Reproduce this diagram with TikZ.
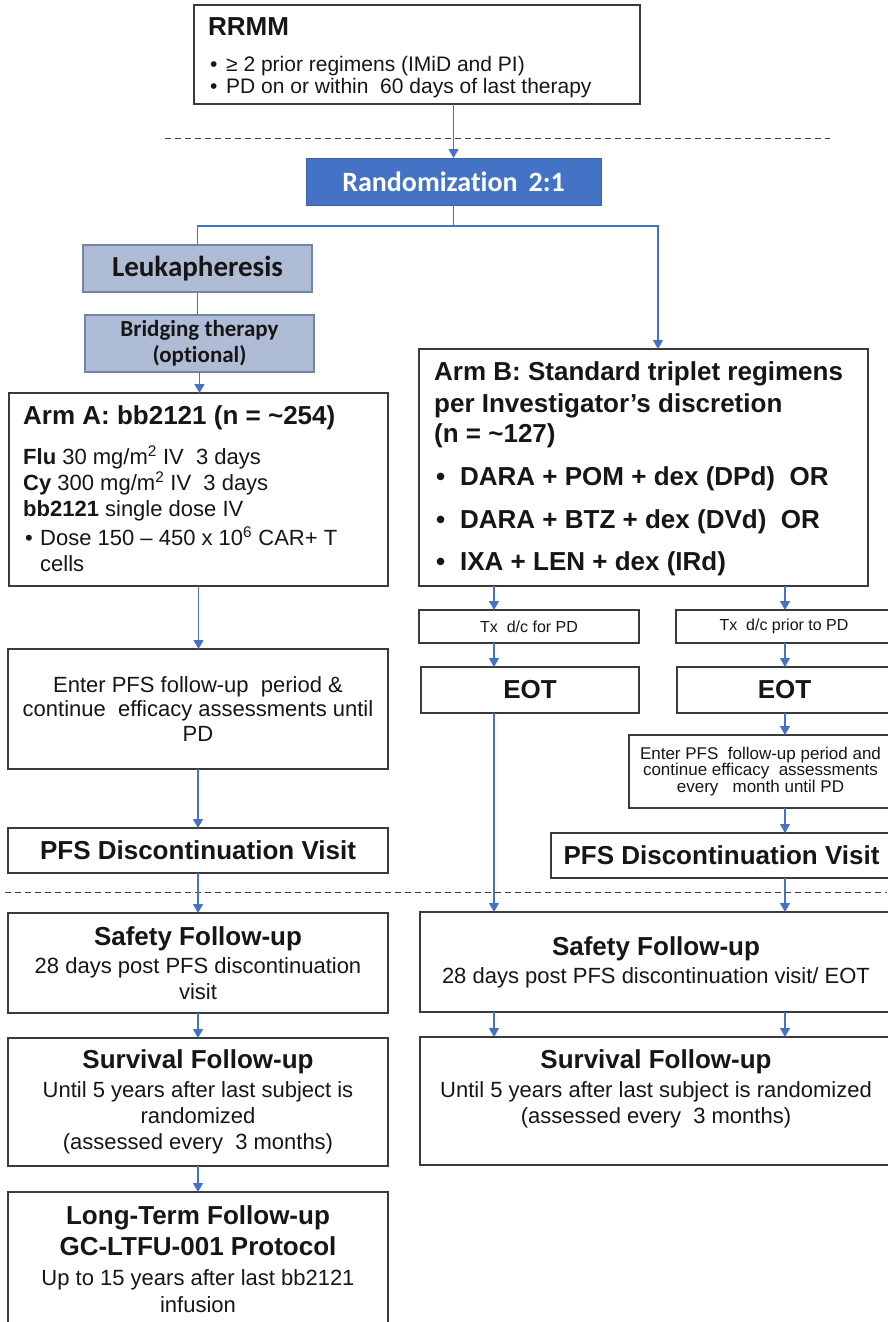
\documentclass[tikz,border=0pt]{standalone}
\usepackage{fontspec}
\setmainfont{Liberation Sans}
\newfontfamily\calib[Ligatures=NoCommon]{Carlito}
\usetikzlibrary{arrows.meta}
\definecolor{conn}{HTML}{4472C4}
\definecolor{randblue}{HTML}{4472C4}
\definecolor{leukfill}{HTML}{AFBCD6}
\definecolor{leukdraw}{HTML}{7386A8}
\definecolor{boxdraw}{HTML}{3A3A3A}
\definecolor{txtc}{HTML}{161616}
\newcommand\hdf{\bfseries\fontsize{26}{30}\selectfont}
\newcommand\mybox[7][box]{\node[#1, minimum width={#5-#3}, minimum height={#6-#4}] (#2) at ({(#3+#5)/2},{(#4+#6)/2}) {#7};}
\begin{document}
\begin{tikzpicture}[x=1pt,y=-1pt,
  box/.style={draw=boxdraw, line width=1.4pt, fill=white, inner sep=0pt, outer sep=0pt, rectangle, text=txtc, align=center},
  leukbox/.style={draw=leukdraw, line width=1.2pt, fill=leukfill, inner sep=0pt, outer sep=0pt, rectangle, text=txtc, align=center},
  randbox/.style={draw=randblue!85!black, line width=1pt, fill=randblue, inner sep=0pt, outer sep=0pt, rectangle, text=white, align=center},
  arr/.style={draw=conn, line width=1.2pt, -{Triangle[width=10pt,length=9pt]}},
  ln/.style={draw=conn, line width=1.2pt},
  sepline/.style={draw=black!75, line width=1pt, dash pattern=on 6pt off 4pt},
  lt/.style={anchor=base west, inner sep=0pt, text=txtc},
  ct/.style={inner sep=0pt, text=txtc, align=center},
  body/.style={font=\fontsize{22}{26}\selectfont},
]
\fill[white] (0,0) rectangle (887,1322);
\useasboundingbox (0,0) rectangle (887,1322);

% separators
\draw[sepline] (165,138) -- (830,138);
\draw[sepline] (5,892) -- (887,892);

% boxes
\mybox{rrmm}{194}{5}{640}{104}{}
\mybox[randbox,font=\calib\bfseries\fontsize{28}{32}\selectfont]{rand}{306}{158}{601}{205}{Randomization\hspace{11pt}2:1}
\mybox[leukbox,font=\calib\bfseries\fontsize{29}{32}\selectfont]{leuk}{83}{245}{312}{292}{Leukapheresis}
\mybox[leukbox,font=\calib\bfseries\fontsize{23}{26}\selectfont]{bridge}{85}{315}{314}{372}{Bridging therapy\\(optional)}
\mybox{armA}{9}{393}{388}{586}{}
\mybox{armB}{419}{349}{868}{586}{}
\mybox[box,font=\fontsize{16}{18}\selectfont]{tx1}{419}{610}{639}{643}{Tx\ \ d/c for PD}
\mybox[box,font=\fontsize{16}{18}\selectfont]{tx2}{676}{610}{892}{643}{Tx\ \ d/c prior to PD}
\mybox[box,font=\hdf]{eot1}{421}{667}{639}{713}{EOT}
\mybox[box,font=\hdf]{eot2}{677}{667}{892}{713}{EOT}
\mybox[box,font=\fontsize{22}{24.5}\selectfont]{enterL}{8}{649}{388}{769}{Enter PFS follow-up\ \ period \&\\continue\ \ efficacy assessments until\\PD}
\mybox[box,font=\fontsize{17}{16.5}\selectfont]{enterR}{629}{735}{892}{808}{Enter PFS\ \ follow-up period and\\continue efficacy\ \ assessments\\every\ \ \ month until PD}
\mybox[box,font=\hdf]{pfsL}{8}{828}{388}{873}{PFS Discontinuation Visit}
\mybox[box,font=\hdf]{pfsR}{551}{833}{892}{878}{PFS Discontinuation Visit}
\mybox[box,body]{safetyL}{8}{913}{388}{1013}{{\hdf Safety Follow-up}\\[2pt]28 days post PFS discontinuation\\visit}
\mybox[box,body]{safetyR}{420}{912}{892}{1012}{{\hdf Safety Follow-up}\\[2pt]28 days post PFS discontinuation visit/ EOT}
\mybox[box,body]{survL}{8}{1038}{388}{1166}{{\hdf Survival Follow-up}\\[3pt]Until 5 years after last subject is\\randomized\\(assessed every\ \ 3 months)}
\mybox{survR}{420}{1037}{892}{1165}{}
\mybox{ltfu}{8}{1192}{388}{1335}{}

% texts of RRMM
\node[lt, font=\bfseries\fontsize{26}{30}\selectfont] (rrmmT) at (208,36) {RRMM};
\node[lt, font=\fontsize{21}{25}\selectfont] (rrmm1) at (210,71) {\makebox[16pt][l]{•}≥ 2 prior regimens (IMiD and PI)};
\node[lt, font=\fontsize{21}{25}\selectfont] (rrmm2) at (210,93) {\makebox[16pt][l]{•}PD on or within\ \ 60 days of last therapy};

% texts of Arm A
\node[lt, font=\hdf] (armAT) at (23,424) {Arm A: bb2121 (n = \textasciitilde254)};
\node[lt, font=\fontsize{22}{26}\selectfont] (armA1) at (23,464) {\textbf{Flu} 30 mg/m\textsuperscript{2} IV\ \ 3 days};
\node[lt, font=\fontsize{22}{26}\selectfont] (armA2) at (23,490) {\textbf{Cy} 300 mg/m\textsuperscript{2} IV\ \ 3 days};
\node[lt, font=\fontsize{22}{26}\selectfont] (armA3) at (23,516) {\textbf{bb2121} single dose IV};
\node[lt, font=\fontsize{22}{26}\selectfont] (armA4) at (25,545) {\makebox[15pt][l]{•}Dose 150 – 450 x 10\textsuperscript{6} CAR+ T};
\node[lt, font=\fontsize{22}{26}\selectfont] (armA5) at (40,571) {cells};

% texts of Arm B
\node[lt, font=\hdf] (armBT1) at (434,380) {Arm B: Standard triplet regimens};
\node[lt, font=\hdf] (armBT2) at (434,412) {per Investigator’s discretion};
\node[lt, font=\hdf] (armBT3) at (434,442) {(n = \textasciitilde127)};
\node[lt, font=\hdf] (armB1) at (436,485) {\makebox[24pt][l]{•}DARA + POM + dex (DPd)\ \ OR};
\node[lt, font=\hdf] (armB2) at (436,528) {\makebox[24pt][l]{•}DARA + BTZ + dex (DVd)\ \ OR};
\node[lt, font=\hdf] (armB3) at (436,570) {\makebox[24pt][l]{•}IXA + LEN + dex (IRd)};

% other texts
\node[ct, body] (survRT) at (656,1089) {{\hdf Survival Follow-up}\\[3pt]Until 5 years after last subject is randomized\\(assessed every\ \ 3 months)};
\node[ct, font=\fontsize{22}{27}\selectfont] (ltfuT) at (198,1259) {{\hdf Long-Term Follow-up}\\[4pt]{\hdf GC-LTFU-001 Protocol}\\[3pt]Up to 15 years after last bb2121\\infusion};

% connectors
\coordinate (cL) at (494,0);
\coordinate (cR) at (785,0);
\coordinate (bj) at (658,0);
\coordinate (hy) at (0,226);
\draw[arr] (rrmm.south -| rand.north) -- (rand.north);
\draw[ln] (rand.south) -- (rand.south |- hy) -| (leuk.north);
\draw[arr] (rand.south |- hy) -| (armB.north -| bj);
\draw[ln] (leuk.south) -- (leuk.south |- bridge.north);
\draw[arr] (bridge.south) -- (bridge.south |- armA.north);
\draw[arr] (armA.south) -- (armA.south |- enterL.north);
\draw[arr] (enterL.south) -- (pfsL.north);
\draw[arr] (pfsL.south) -- (safetyL.north);
\draw[arr] (safetyL.south) -- (survL.north);
\draw[arr] (survL.south) -- (ltfu.north);
\draw[arr] (armB.south -| cL) -- (tx1.north -| cL);
\draw[arr] (armB.south -| cR) -- (tx2.north -| cR);
\draw[arr] (tx1.south -| cL) -- (eot1.north -| cL);
\draw[arr] (tx2.south -| cR) -- (eot2.north -| cR);
\draw[arr] (eot1.south -| cL) -- (safetyR.north -| cL);
\draw[arr] (eot2.south -| cR) -- (enterR.north -| cR);
\draw[arr] (enterR.south -| cR) -- (pfsR.north -| cR);
\draw[arr] (pfsR.south -| cR) -- (safetyR.north -| cR);
\draw[arr] (safetyR.south -| cL) -- (survR.north -| cL);
\draw[arr] (safetyR.south -| cR) -- (survR.north -| cR);
\end{tikzpicture}
\end{document}
